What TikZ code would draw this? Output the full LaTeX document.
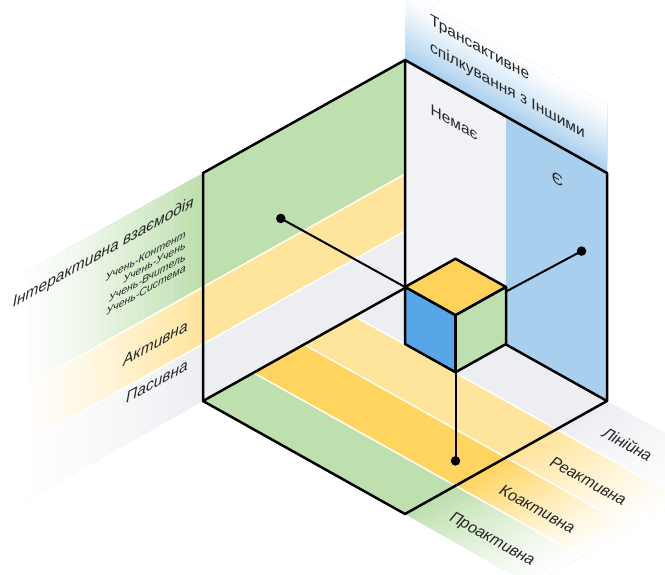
\documentclass[tikz,border=0pt]{standalone}
\usepackage{fontspec}
\setmainfont{Liberation Sans}
\setsansfont{Liberation Sans}
\usepackage{tikz}
\usetikzlibrary{calc}
\definecolor{grn}{HTML}{BEDFAE}
\definecolor{ylw}{HTML}{FFE49B}
\definecolor{org}{HTML}{FFD45F}
\definecolor{gry}{HTML}{ECEEF2}
\definecolor{blu}{HTML}{A9CFEE}
\definecolor{cblu}{HTML}{56A6E8}
\definecolor{cylw}{HTML}{FFD35A}
\definecolor{txt}{HTML}{262626}

\begin{document}
\begin{tikzpicture}[x=1pt,y=-1pt]
    \sffamily

    \tikzset{ED/.style={draw=black,line width=2.5pt,line join=round}}
    \tikzset{AX/.style={draw=black,line width=2pt}}
    \tikzset{SP/.style={draw=white,line width=1.4pt}}
    \tikzset{DT/.style={circle,fill=black,inner sep=0pt,minimum size=9.5pt}}
    \tikzset{LW/.style={inner sep=0pt,anchor=east,yslant=0.559,text=txt,font=\itshape\fontsize{15.5}{17}\selectfont}}
    \tikzset{LS/.style={LW,font=\itshape\fontsize{10.5}{12}\selectfont}}
    \tikzset{RW/.style={inner sep=0pt,yslant=-0.559,text=txt,font=\fontsize{15.5}{17}\selectfont}}
    \tikzset{FL/.style={inner sep=0pt,anchor=west,rotate=-29.2,text=txt,font=\itshape\fontsize{16}{18}\selectfont}}

    \useasboundingbox (0,0) rectangle (665,574);
    \clip (0,0) rectangle (665,574);

    \coordinate (C) at (405,288);
    \begin{scope}[shift={(C)},x={(202pt,-113pt)},y={(-202pt,-113pt)},z={(0pt,228pt)}]
        \coordinate (O) at (0,0,0);
        \coordinate (T) at (0,0,1);
        \coordinate (UL) at (0,1,1);
        \coordinate (LL) at (0,1,0);
        \coordinate (B) at (1,1,0);
        \coordinate (LR) at (1,0,0);
        \coordinate (UR) at (1,0,1);

        % left wall
        \fill[gry] (0,0,0) -- (0,1,0) -- (0,1,.25) -- (0,0,.25) -- cycle;
        \fill[ylw] (0,0,.25) -- (0,1,.25) -- (0,1,.5) -- (0,0,.5) -- cycle;
        \fill[grn] (0,0,.5) -- (0,1,.5) -- (0,1,1) -- (0,0,1) -- cycle;
        % right wall
        \fill[gry!70!white] (0,0,0) -- (.5,0,0) -- (.5,0,1) -- (0,0,1) -- cycle;
        \fill[blu] (.5,0,0) -- (1,0,0) -- (1,0,1) -- (.5,0,1) -- cycle;
        % floor
        \fill[gry] (0,0,0) -- (1,0,0) -- (1,.25,0) -- (0,.25,0) -- cycle;
        \fill[ylw] (0,.25,0) -- (1,.25,0) -- (1,.5,0) -- (0,.5,0) -- cycle;
        \fill[org] (0,.5,0) -- (1,.5,0) -- (1,.75,0) -- (0,.75,0) -- cycle;
        \fill[grn] (0,.75,0) -- (1,.75,0) -- (1,1,0) -- (0,1,0) -- cycle;

        % fading ends
        \foreach \i in {0,...,24} {
            \pgfmathtruncatemacro\p{100*(1-\i/25)^1.3}
            \fill[gry!\p!white] (0,{1+.036*\i},0) -- (0,1.9,0) -- (0,1.9,.25) -- (0,{1+.036*\i},.25) -- cycle;
            \fill[ylw!\p!white] (0,{1+.036*\i},.25) -- (0,1.9,.25) -- (0,1.9,.5) -- (0,{1+.036*\i},.5) -- cycle;
            \fill[grn!\p!white] (0,{1+.036*\i},.5) -- (0,1.9,.5) -- (0,1.9,1) -- (0,{1+.036*\i},1) -- cycle;
            \fill[gry!\p!white] ({1+.025*\i},0,0) -- (1.625,0,0) -- (1.625,.25,0) -- ({1+.025*\i},.25,0) -- cycle;
            \fill[ylw!\p!white] ({1+.025*\i},.25,0) -- (1.625,.25,0) -- (1.625,.5,0) -- ({1+.025*\i},.5,0) -- cycle;
            \fill[org!\p!white] ({1+.025*\i},.5,0) -- (1.625,.5,0) -- (1.625,.75,0) -- ({1+.025*\i},.75,0) -- cycle;
            \fill[grn!\p!white] ({1+.025*\i},.75,0) -- (1.625,.75,0) -- (1.625,1,0) -- ({1+.025*\i},1,0) -- cycle;
            \fill[blu!\p!white] (0,0,{1+.012*\i}) -- (1,0,{1+.012*\i}) -- (1,0,1.3) -- (0,0,1.3) -- cycle;
        }

        \draw[SP] (0,0,.25) -- (0,1.9,.25) (0,0,.5) -- (0,1.9,.5);
        \draw[SP] (0,.25,0) -- (1.625,.25,0) (0,.5,0) -- (1.625,.5,0) (0,.75,0) -- (1.625,.75,0);

        \draw[ED] (T) -- (UL) -- (LL) -- (B) -- (LR) -- (UR) -- cycle;
        \draw[ED] (O) -- (T) (O) -- (LL) (O) -- (LR);

        % small cube
        \coordinate (s1) at (.5,.25,.5);
        \coordinate (s2) at (.75,.25,.5);
        \coordinate (s3) at (.75,.5,.5);
        \coordinate (s4) at (.5,.5,.5);
        \coordinate (s5) at (.5,.5,.25);
        \coordinate (s6) at (.75,.5,.25);
        \coordinate (s7) at (.75,.25,.25);
        \draw[ED,fill=cylw] (s4) -- (s1) -- (s2) -- (s3) -- cycle;
        \draw[ED,fill=cblu] (s4) -- (s3) -- (s6) -- (s5) -- cycle;
        \draw[ED,fill=grn] (s3) -- (s2) -- (s7) -- (s6) -- cycle;

        \coordinate (sr) at (.75,.25,.48);
        \node[DT] (dl) at (0,.615,.61) {};
        \node[DT] (dr) at (.874,0,.595) {};
        \node[DT] (db) at (.89,.64,0) {};
        \draw[AX] (s4) -- (dl.center);
        \draw[AX] (sr) -- (dr.center);
        \draw[AX] (s6) -- (db.center);

        % labels
        \node[RW,anchor=west] (tr1) at (.124,0,1.232) {Трансактивне};
        \node[RW,anchor=west] (tr2) at (.124,0,1.116) {спілкування з Іншими};
        \node[RW] (no) at (.243,0,.846) {Немає};
        \node[RW] (ye) at (.755,0,.85) {Є};

        \node[LW] (ia) at (0,1.045,.894) {Інтерактивна взаємодія};
        \node[LS] (u1) at (0,1.085,.777) {Учень-Контент};
        \node[LS] (u2) at (0,1.085,.727) {Учень-Учень};
        \node[LS] (u3) at (0,1.085,.677) {Учень-Вчитель};
        \node[LS] (u4) at (0,1.085,.627) {Учень-Система};
        \node[LW] (ak) at (0,1.075,.371) {Активна};
        \node[LW] (pa) at (0,1.075,.199) {Пасивна};

        \node[FL] (li) at (1.125,.14,0) {Лінійна};
        \node[FL] (re) at (1.125,.40,0) {Реактивна};
        \node[FL] (ko) at (1.125,.65,0) {Коактивна};
        \node[FL] (pr) at (1.125,.90,0) {Проактивна};
    \end{scope}
\end{tikzpicture}
\end{document}
